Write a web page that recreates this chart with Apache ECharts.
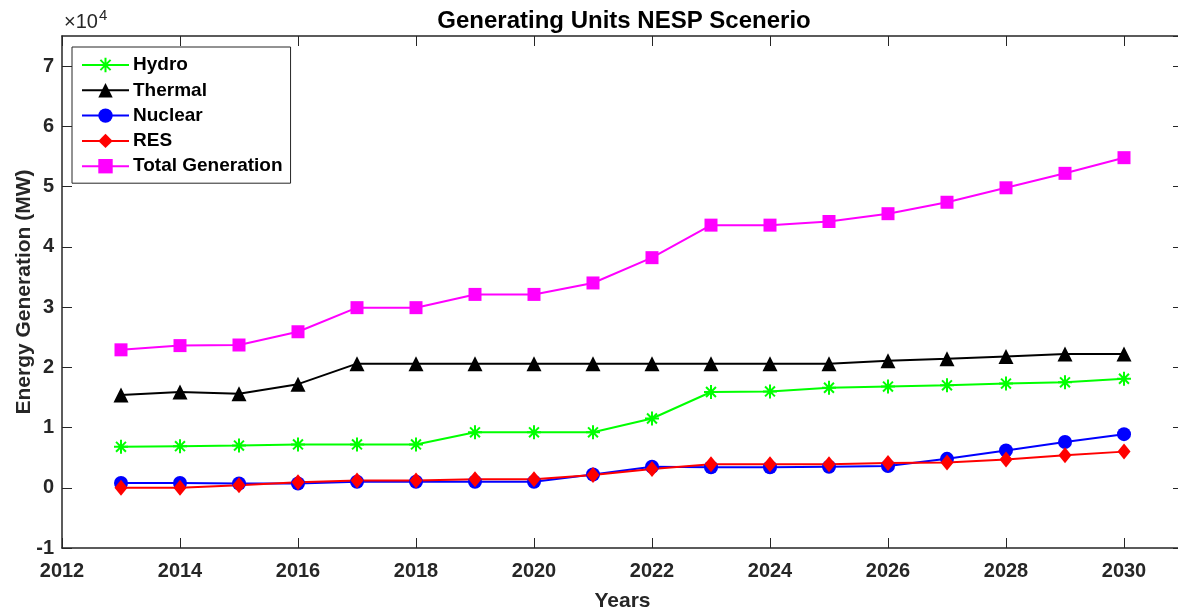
<!DOCTYPE html>
<html>
<head>
<meta charset="utf-8">
<script src="https://cdn.jsdelivr.net/npm/echarts@6/dist/echarts.min.js"></script>
<style>html,body{margin:0;padding:0;background:#fff}#c{width:1178px;height:612px}</style>
</head>
<body>
<div id="c"></div>
<script>
const years = [2013,2014,2015,2016,2017,2018,2019,2020,2021,2022,2023,2024,2025,2026,2027,2028,2029,2030];
const hydro   = [6800,6900,7000,7200,7200,7200,9200,9200,9200,11500,15900,16000,16600,16800,17000,17300,17500,18100];
const thermal = [15400,15900,15600,17200,20600,20600,20600,20600,20600,20600,20600,20600,20600,21100,21400,21800,22200,22200];
const nuclear = [800,800,700,700,1000,1000,1000,1000,2200,3500,3400,3400,3500,3600,4800,6200,7600,8900];
const res     = [0,0,400,900,1200,1200,1400,1400,2100,3100,3900,3900,3900,4100,4200,4700,5400,6000];
const total   = [22900,23600,23700,25900,29900,29900,32100,32100,34000,38200,43600,43600,44200,45500,47400,49800,52200,54800];
const yTicks = [-1,0,1,2,3,4,5,6,7];

const axisColor = '#262626';
const font = 'Liberation Sans, Arial, sans-serif';
const pairs = (arr) => years.map((y, i) => [y, arr[i]]);
const asterisk = 'path://M0,-10L0,10M-10,0L10,0M-7.07,-7.07L7.07,7.07M-7.07,7.07L7.07,-7.07';

function mk(name, data, color, symbol, size, extra) {
  return Object.assign({
    name: name, type: 'line', data: pairs(data), symbol: symbol, symbolSize: size,
    lineStyle: {color: color, width: 2}, itemStyle: {color: color},
    animation: false, z: 3
  }, extra || {});
}

const chart = echarts.init(document.getElementById('c'), null, {renderer: 'canvas'});
const baseX = {
  type: 'value', min: 2012, max: 2031, interval: 2,
  axisLine: {show: true, onZero: false, lineStyle: {color: axisColor, width: 1.5}},
  axisTick: {show: true, inside: true, length: 10, lineStyle: {color: axisColor}},
  splitLine: {show: false}
};
const baseY = {
  type: 'value', min: -10000, max: 75000, interval: 10000,
  axisLine: {show: true, onZero: false, lineStyle: {color: axisColor, width: 1.5}},
  axisTick: {show: true, inside: true, length: 10, lineStyle: {color: axisColor}},
  splitLine: {show: false}
};
chart.setOption({
  backgroundColor: '#fff',
  animation: false,
  title: {
    text: 'Generating Units NESP Scenerio', left: 619, top: 4, textAlign: 'center',
    textStyle: {fontFamily: font, fontWeight: 'bold', fontSize: 24, color: '#000'}
  },
  grid: {left: 62, top: 36, height: 512, width: 1121, containLabel: false, outerBoundsMode: 'none'},
  xAxis: [
    Object.assign({}, baseX, {
      position: 'bottom', name: 'Years', nameLocation: 'middle', nameGap: 43, nameMoveOverlap: false,
      nameTextStyle: {fontFamily: font, fontWeight: 'bold', fontSize: 21, color: axisColor},
      axisLabel: {show: true, showMaxLabel: false, margin: 13, fontFamily: font, fontWeight: 'bold', fontSize: 20, color: axisColor,
        formatter: (v) => String(v)}
    }),
    Object.assign({}, baseX, {position: 'top', axisLabel: {show: false}})
  ],
  yAxis: [
    Object.assign({}, baseY, {
      position: 'left', name: 'Energy Generation (MW)', nameLocation: 'middle', nameGap: 27, nameMoveOverlap: false,
      nameTextStyle: {fontFamily: font, fontWeight: 'bold', fontSize: 21, color: axisColor},
      axisLabel: {show: true, showMaxLabel: false, margin: 8, fontFamily: font, fontWeight: 'bold', fontSize: 20, color: axisColor,
        formatter: (v) => String(v / 10000)}
    }),
    Object.assign({}, baseY, {position: 'right', axisLabel: {show: false}})
  ],
  legend: {
    orient: 'vertical', left: 72, top: 47,
    backgroundColor: '#fff', borderColor: axisColor, borderWidth: 1,
    padding: [8, 8, 7, 9], itemGap: 5.3, itemWidth: 47, itemHeight: 18,
    textStyle: {fontFamily: font, fontWeight: 'bold', fontSize: 19, lineHeight: 20, color: '#000', padding: [0, 0, 0, -1]},
    data: ['Hydro', 'Thermal', 'Nuclear', 'RES', 'Total Generation']
  },
  graphic: [{
    type: 'text', left: 64, top: 8,
    style: {
      text: '{a|×10}{b|4}',
      rich: {
        a: {fontFamily: font, fontSize: 20, fill: axisColor, verticalAlign: 'bottom'},
        b: {fontFamily: font, fontSize: 15, fill: axisColor, verticalAlign: 'top', padding: [0, 0, 9, 1]}
      }
    }
  }],
  series: [
    mk('Hydro', hydro, '#00ff00', asterisk, 14, {itemStyle: {color: '#00ff00', borderColor: '#00ff00', borderWidth: 2}}),
    mk('Thermal', thermal, '#000000', 'triangle', 15),
    mk('Nuclear', nuclear, '#0000ff', 'circle', 14),
    mk('RES', res, '#ff0000', 'diamond', [13, 16]),
    mk('Total Generation', total, '#ff00ff', 'rect', 13)
  ]
});
</script>
</body>
</html>
